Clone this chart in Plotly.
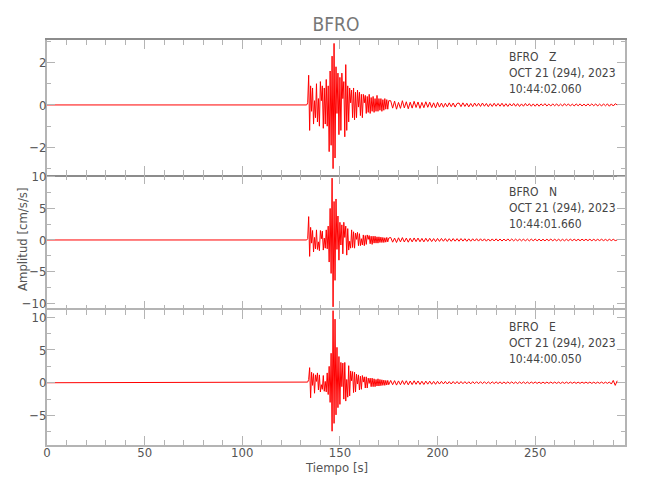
import numpy as np
import plotly.graph_objects as go
from plotly.subplots import make_subplots

# ---- data ----
station = "BFRO"
components = ["Z", "N", "E"]
date_label = "OCT 21 (294), 2023"
start_times = ["10:44:02.060", "10:44:01.660", "10:44:00.050"]

pre_t = [0.0, 133.0]
pre_v = [0.0, 0.0]

strong_t0, strong_dt = 133.5, 0.5
coda_t0, coda_dt = 176.0, 1.0

z_strong = [0.1, 1.4, -1.2, 0.9, -0.3, 0.8, -0.9, 0.2, -0.6, 1.0, -0.8, 0.3, -1.0, 1.1, 0.2, 0.9,
            -1.1, 0.8, -0.9, 1.2, -1.0, 0.9, -2.2, 1.6, -1.9, 2.3, -3.0, 2.9, -2.5, 1.8, -0.4, 1.5,
            -1.4, 1.3, -1.2, 1.5, 0.3, 1.1, -1.5, 1.9, -1.2, 0.9, -0.8, 0.8, 0.1, 0.7, -0.6, 0.8,
            -0.7, 0.6, -0.6, 0.7, -0.1, 0.6, -0.5, 0.5, -0.6, 0.5, 0.1, 0.45, -0.4, 0.4, -0.35, 0.5,
            -0.4, 0.35, -0.3, 0.4, -0.35, 0.3, -0.3, 0.45, -0.3, 0.3, -0.25, 0.3, -0.3, 0.25, -0.25, 0.3,
            -0.2, 0.25, -0.2, 0.2]
z_coda = [0.2, -0.15, 0.18, -0.2, 0.12, -0.16, 0.2, -0.14, 0.15, -0.18, 0.13, -0.15, 0.17, -0.12,
          0.14, -0.16, 0.12, -0.13, 0.15, -0.11, 0.13, -0.12, 0.1, -0.14, 0.12,
          -0.1, 0.09, -0.11, 0.08, -0.09, 0.1, -0.08, 0.09, -0.1, 0.07,
          0.09, -0.08, 0.1, -0.07, 0.08, -0.09, 0.07, -0.08, 0.09, -0.06,
          0.08, -0.07, 0.09, -0.06, 0.07, -0.08, 0.06, -0.07, 0.08, -0.06,
          0.07, -0.06, 0.08, -0.07, 0.06, -0.07, 0.06, -0.05, 0.07, -0.06,
          0.06, -0.07, 0.05, -0.06, 0.07, -0.05, 0.06, -0.06, 0.05, -0.06,
          0.05, -0.06, 0.05, -0.04, 0.06, -0.05, 0.04, -0.05, 0.05, -0.04,
          0.05, -0.05, 0.04, -0.05, 0.06, -0.04, 0.05, -0.05, 0.04, -0.05,
          0.05, -0.04, 0.05, -0.05, 0.04, -0.05, 0.05, -0.04, 0.05, -0.04,
          0.05, -0.05, 0.04, -0.05, 0.05, -0.04, 0.05, -0.06, 0.05, -0.05,
          0.06, 0.0]

n_strong = [0.2, 3.7, -2.6, 2.0, -0.5, 1.5, -1.9, 0.4, -1.4, 1.6, -1.5, -0.3, -1.7, 1.5, 0.2, 1.4,
            -1.6, 0.3, -1.3, 1.6, -1.4, 2.2, -3.5, 5.0, -5.3, 9.8, -10.6, 6.1, -6.4, 6.5, -1.5, 3.8,
            -3.2, 2.8, -0.8, 2.4, -2.2, 2.8, 0.4, 2.2, -2.4, 1.8, -1.6, -0.2, -1.3, 1.6, -1.2, 1.3,
            -1.3, 1.1, 0.1, 1.2, -0.9, 1.0, -0.9, 0.2, -0.8, 0.8, -0.9, 0.7, -0.7, 0.8, 0.1, 0.7,
            -0.6, 0.6, -0.7, 0.6, -0.5, 0.6, -0.5, 0.5, -0.5, 0.5, -0.4, 0.45, -0.4, 0.4, -0.4, 0.35,
            -0.35, 0.4, -0.3, 0.3]
n_coda = [0.4, -0.35, 0.3, -0.4, 0.35, -0.3, 0.38, -0.32, 0.3, -0.35, 0.28, -0.3, 0.32, -0.26,
          0.3, -0.28, 0.25, -0.3, 0.27, -0.24, 0.26, -0.25, 0.22, -0.26, 0.24,
          -0.22, 0.24, -0.2, 0.22, -0.23, 0.2, -0.21, 0.22, -0.19, 0.21,
          -0.2, 0.22, -0.18, 0.2, -0.21, 0.18, -0.2, 0.19, -0.17, 0.2,
          -0.18, 0.19, -0.17, 0.18, -0.19, 0.16, -0.18, 0.17, -0.16, 0.18,
          -0.17, 0.16, -0.17, 0.15, -0.16, 0.17, -0.15, 0.16, -0.15, 0.14,
          -0.16, 0.15, -0.14, 0.15, -0.16, 0.14, -0.15, 0.14, -0.13, 0.15,
          -0.14, 0.13, -0.15, 0.12, -0.14, 0.13, -0.12, 0.14, -0.13, 0.12,
          -0.13, 0.12, -0.14, 0.11, -0.13, 0.12, -0.12, 0.13, -0.11, 0.12,
          -0.12, 0.11, -0.12, 0.13, -0.11, 0.12, -0.11, 0.12, -0.12, 0.11,
          -0.12, 0.11, -0.1, 0.12, -0.11, 0.1, -0.12, 0.11, -0.1, 0.11,
          -0.1, 0.0]

e_strong = [0.1, 0.5, 2.3, -2.3, 1.6, -0.4, 1.4, -1.6, 1.2, 0.2, 1.5, -1.1, 1.2, -1.4, -0.3, -1.0,
            1.1, -1.3, 0.2, -1.4, 1.5, -1.8, 2.5, -3.0, 4.5, -7.4, 11.0, -6.2, 9.7, -4.9, 5.4, -3.8,
            4.0, -3.3, 3.1, -0.6, 3.0, -2.5, 3.1, -2.8, 0.5, -2.2, 2.6, -2.0, 1.8, 0.3, 1.7, -1.5,
            1.6, -1.4, 1.3, -0.2, 1.2, -1.1, 1.0, -1.0, 1.1, 0.1, 0.9, -0.8, 0.9, -0.8, 0.7, -0.1,
            0.7, -0.6, 0.7, -0.6, 0.6, -0.6, 0.5, -0.5, 0.6, -0.5, 0.5, -0.45, 0.45, -0.4, 0.4, -0.4,
            0.35, -0.35, 0.35, -0.3]
e_coda = [0.35, -0.3, 0.32, -0.36, 0.28, -0.3, 0.33, -0.27, 0.3, -0.32, 0.26, -0.28, 0.3, -0.24,
          0.27, -0.26, 0.23, -0.27, 0.25, -0.22, 0.24, -0.23, 0.2, -0.24, 0.22,
          -0.2, 0.21, -0.18, 0.2, -0.19, 0.17, -0.19, 0.18, -0.16, 0.18,
          -0.17, 0.18, -0.15, 0.17, -0.16, 0.15, -0.17, 0.16, -0.14, 0.16,
          -0.15, 0.16, -0.14, 0.15, -0.15, 0.13, -0.14, 0.14, -0.13, 0.14,
          -0.13, 0.13, -0.14, 0.12, -0.13, 0.13, -0.12, 0.13, -0.12, 0.11,
          -0.13, 0.12, -0.11, 0.12, -0.12, 0.11, -0.12, 0.11, -0.1, 0.12,
          -0.11, 0.1, -0.12, 0.1, -0.11, 0.1, -0.1, 0.11, -0.1, 0.1,
          -0.1, 0.1, -0.11, 0.09, -0.1, 0.1, -0.1, 0.1, -0.09, 0.1,
          -0.1, 0.09, -0.1, 0.1, -0.09, 0.1, -0.09, 0.1, -0.1, 0.09,
          -0.1, 0.09, -0.09, 0.1, -0.1, 0.09, -0.1, 0.12, -0.2, 0.35,
          -0.4, 0.3]

strong = [z_strong, n_strong, e_strong]
coda = [z_coda, n_coda, e_coda]

y_ranges = [[-3.3, 3.06], [-11.1, 10.3], [-9.5, 11.1]]
y_dticks = [2, 5, 5]
y_minor = [1, 2.5, 2.5]
x_range = [0, 296]

# ---- figure ----
FONT = "DejaVu Sans Condensed, Liberation Sans Narrow, sans-serif"
AX = "#b4b4b4"
TXT = "#555555"
OFF = 8  # page body margin offset
ML, MT, PH, PW = 47 - OFF, 40 - OFF, 405, 578


def px(xp, yp):
    """reference screen pixel -> paper coordinates"""
    return (xp - OFF - ML) / PW, 1 - (yp - OFF - MT) / PH


fig = make_subplots(rows=3, cols=1, shared_xaxes=True, vertical_spacing=0)

for i in range(3):
    s = strong[i]
    c = coda[i]
    t = np.concatenate([pre_t,
                        strong_t0 + strong_dt * np.arange(len(s)),
                        coda_t0 + coda_dt * np.arange(len(c))])
    v = np.concatenate([pre_v, s, c])
    fig.add_trace(go.Scatter(x=t, y=v, mode="lines",
                             line=dict(color="#ff0000", width=1),
                             showlegend=False, hoverinfo="skip"),
                  row=i + 1, col=1)

for i in range(3):
    fig.update_yaxes(row=i + 1, col=1, range=y_ranges[i], dtick=y_dticks[i], tick0=0,
                     showline=True, linecolor=AX, linewidth=2, mirror="ticks",
                     ticks="inside", ticklen=8, tickcolor=AX, tickwidth=1,
                     minor=dict(dtick=y_minor[i], tick0=0, ticks="inside", ticklen=4,
                                tickcolor=AX, showgrid=False),
                     showgrid=False, zeroline=False, automargin=False,
                     ticklabelstandoff=-4,
                     tickfont=dict(family=FONT, size=13, color=TXT))
    fig.update_xaxes(row=i + 1, col=1, range=x_range, dtick=50, tick0=0,
                     showline=(i != 1), linecolor=AX, linewidth=2, mirror="ticks",
                     ticks="inside", ticklen=9, tickcolor=AX, tickwidth=1,
                     minor=dict(dtick=10, tick0=0, ticks="inside", ticklen=5,
                                tickcolor=AX, showgrid=False),
                     showgrid=False, zeroline=False, automargin=False,
                     ticklabelstandoff=-6,
                     tickfont=dict(family=FONT, size=13, color=TXT))
fig.update_xaxes(row=1, col=1, linecolor="#8c8c8c")

# panel annotations
pan_top_px = [40, 175, 310]
for i in range(3):
    lines = [station + "\u00a0\u00a0\u00a0" + components[i], date_label, start_times[i]]
    for k, txt in enumerate(lines):
        ax_, ay_ = px(507, pan_top_px[i] + 17 + 16 * k)
        fig.add_annotation(xref="paper", yref="paper", x=ax_, y=ay_,
                           xanchor="left", yanchor="middle", showarrow=False,
                           text=txt, font=dict(family=FONT, size=12, color="#444444"))

ax_, ay_ = px(22, 240)
fig.add_annotation(xref="paper", yref="paper", x=ax_, y=ay_,
                   xanchor="center", yanchor="middle", textangle=-90, showarrow=False,
                   text="Amplitud [cm/s/s]", font=dict(family=FONT, size=13, color=TXT))
ax_, ay_ = px(336, 468)
fig.add_annotation(xref="paper", yref="paper", x=ax_, y=ay_,
                   xanchor="center", yanchor="middle", showarrow=False,
                   text="Tiempo [s]", font=dict(family=FONT, size=13, color=TXT))

fig.update_layout(
    width=650, height=500,
    margin=dict(l=ML, r=650 - ML - PW, t=MT, b=500 - MT - PH, autoexpand=False),
    paper_bgcolor="white", plot_bgcolor="white",
    title=dict(text=station, x=(336 - OFF) / 650, xanchor="center",
               y=1 - (24 - OFF) / 500, yanchor="middle",
               font=dict(family=FONT, size=19, color="#777777")),
)

fig.write_html("out.html")
